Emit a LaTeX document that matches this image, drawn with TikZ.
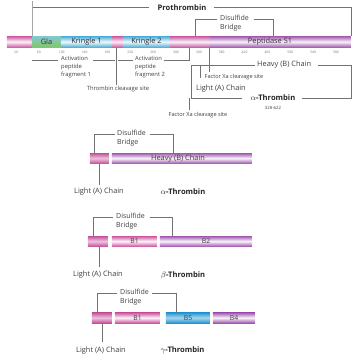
\documentclass[tikz,border=0pt]{standalone}
\usepackage{fontspec}
\setmainfont{Open Sans}
\definecolor{pinkc}{RGB}{205,85,160}
\definecolor{purpc}{RGB}{160,85,175}
\definecolor{bluec}{RGB}{35,150,210}
\definecolor{kringc}{RGB}{70,172,215}
\definecolor{glagreen}{RGB}{130,200,100}
\definecolor{glateal}{RGB}{130,200,210}
\definecolor{linec}{RGB}{115,115,115}
\definecolor{txtc}{RGB}{65,65,65}
\begin{document}
\begin{tikzpicture}[x=1pt,y=-1pt,
  ln/.style={draw=linec, line width=0.6pt},
  lab/.style={font=\fontsize{7.4}{8}\selectfont, text=txtc, inner sep=0pt},
  blab/.style={font=\fontsize{7.6}{8}\selectfont\bfseries, text=black!85, inner sep=0pt},
  small/.style={font=\fontsize{5.8}{7.9}\selectfont, text=txtc, inner sep=0pt, align=left},
  dis/.style={font=\fontsize{7}{9.2}\selectfont, text=txtc, inner sep=0pt, align=left},
  tick/.style={font=\fontsize{3.3}{3.3}\selectfont, text=black!55, inner sep=0pt},
  segbar/.style={minimum height=10.5pt, inner sep=0pt, outer sep=0pt, anchor=north west,
     font=\fontsize{6.8}{6.8}\selectfont, text=txtc, top color=#1, bottom color=#1, middle color=#1!6},
  topbar/.style={minimum height=11.5pt, inner sep=0pt, outer sep=0pt, anchor=north west,
     font=\fontsize{7.4}{7.4}\selectfont, text=black!80, top color=#1, bottom color=#1, middle color=#1!8},
  lightbar/.style={minimum height=10.5pt, inner sep=0pt, outer sep=0pt, anchor=north west,
     top color=pinkc!95!black, bottom color=pinkc!95!black, middle color=pinkc!35}
]
\fill[white] (0,0) rectangle (358,360);
\useasboundingbox (0,0) rectangle (358,360);

% ---------- Prothrombin bar ----------
\node[topbar=pinkc, minimum width=25pt] (p0) at (7,36) {};
\node[minimum height=11.5pt, minimum width=29pt, inner sep=0pt, outer sep=0pt, anchor=north west,
      top color=glateal, middle color=glagreen!30, bottom color=glagreen,
      font=\fontsize{7.4}{7.4}\selectfont, text=black!80] (gla) at (32,36) {Gla};
\node[topbar=kringc, minimum width=51pt] (k1) at (61,36) {Kringle 1};
\node[topbar=pinkc, minimum width=11pt] (p1) at (112,36) {};
\node[topbar=kringc, minimum width=47pt] (k2) at (123,36) {Kringle 2};
\node[topbar=pinkc!85!purpc, minimum width=40pt] (p2) at (170,36) {};
\node[topbar=purpc, minimum width=141pt] (ps) at (210,36) {};
\node[font=\fontsize{7.4}{7.4}\selectfont, text=black!80, inner sep=0pt] (pslab) at (270,41.5) {Peptidase S1};

\foreach \n in {20,60,...,580}
  \node[tick] (t\n) at ({16+(\n-20)*0.5714},52.5) {\n};

% Prothrombin bracket
\node[blab] (proth) at (182,7.5) {Prothrombin};
\draw[draw=black!35, line width=0.5pt] (32,1) -- (p0.north east);
\draw[ln] (33,7.5) -- (149,7.5);
\draw[ln] (214,7.5) -- (351,7.5) -- (351,36);

% Disulfide bridge (top)
\node[dis, anchor=north west] (ds0) at (220,15) {Disulfide\\Bridge};
\draw[ln] (195,36) |- (217,19);
\draw[ln] (254,19) -| (273,36);

% Activation peptide fragment 1
\node[small, anchor=north west] (af1) at (61,56.5) {Activation\\peptide\\fragment 1};
\draw[ln] (32,60) -- (58,60);
\draw[ln] (93,60) -- (115,60);
% Thrombin cleavage site
\node[small] (tcs) at (118,89) {Thrombin cleavage site};
\draw[ln] (116,47.5) -- (116,84.5);
% Activation peptide fragment 2
\node[small, anchor=north west] (af2) at (135,56.5) {Activation\\peptide\\fragment 2};
\draw[ln] (118,60) -- (133,60);
\draw[ln] (164,60) -| (189,47.5);

% Heavy chain
\node[lab, anchor=west] (hv) at (257,65) {Heavy (B) Chain};
\draw[ln] (191,65) -- (255,65);
\draw[ln] (318,65) -- (351,65);
% Factor Xa (upper)
\draw[ln] (209,47.5) -- (209,72);
\node[small, font=\fontsize{5.6}{6}\selectfont] (fx1) at (234,77.5) {Factor Xa cleavage site};
\draw[ln] (200,65) -- (200,78);
% Light chain
\node[lab] (lt0) at (221,89) {Light (A) Chain};
% alpha-thrombin bracket
\node[blab] (at0) at (273,98) {$\alpha$-Thrombin};
\node[tick, font=\fontsize{4.3}{4.3}\selectfont, text=txtc] (rng) at (273,108) {328-622};
\draw[ln] (191,65) -- (191,98) -- (242,98);
\draw[ln] (302,98) -- (351,98) -- (351,65);
% Factor Xa (lower)
\draw[ln] (189,98) -- (189,110);
\node[small, font=\fontsize{5.6}{6}\selectfont] (fx2) at (198,115.5) {Factor Xa cleavage site};

% ---------- alpha-thrombin ----------
\node[lightbar, minimum width=19pt] (aL) at (90,153) {};
\node[segbar=purpc, minimum width=140pt] (aH) at (112,153) {};
\node[lab] at (178,158.5) {Heavy (B) Chain};
\node[dis, anchor=north west] (ds1) at (117,130) {Disulfide\\Bridge};
\draw[ln] (94,153) |- (115,134);
\draw[ln] (150,134) -| (173,153);
\draw[ln] (99,163.5) -- (99,185);
\node[lab] (aLt) at (99,192) {Light (A) Chain};
\node[blab] (aT) at (183,192) {$\alpha$-Thrombin};

% ---------- beta-thrombin ----------
\node[lightbar, minimum width=20pt] (bL) at (88,236) {};
\node[segbar=pinkc, minimum width=45pt] (bB1) at (112,236) {B1};
\node[segbar=purpc, minimum width=92pt] (bB2) at (160,236) {B2};
\node[dis, anchor=north west] (ds2) at (116,213) {Disulfide\\Bridge};
\draw[ln] (93,236) |- (113,217);
\draw[ln] (150,217) -| (172,236);
\draw[ln] (99,246.5) -- (99,267);
\node[lab] (bLt) at (98,275) {Light (A) Chain};
\node[blab] (bT) at (183,275) {$\beta$-Thrombin};

% ---------- gamma-thrombin ----------
\node[lightbar, minimum width=20pt] (gL) at (92,312.5) {};
\node[segbar=pinkc, minimum width=45pt] (gB1) at (115,312.5) {B1};
\node[segbar=bluec, minimum width=44pt, middle color=bluec!40] (gB5) at (166,312.5) {B5};
\node[segbar=purpc, minimum width=42pt] (gB4) at (213,312.5) {B4};
\node[dis, anchor=north west] (ds3) at (120,289) {Disulfide\\Bridge};
\draw[ln] (97,312.5) |- (117,293);
\draw[ln] (152,293) -| (176,312.5);
\draw[ln] (102,323) -- (102,342);
\node[lab] (gLt) at (101,350.5) {Light (A) Chain};
\node[blab] (gT) at (182.5,350.5) {$\gamma$-Thrombin};
\end{tikzpicture}
\end{document}
